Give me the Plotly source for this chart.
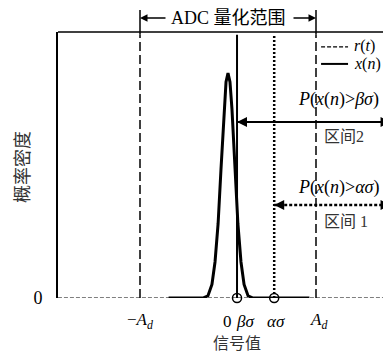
import plotly.graph_objects as go

# ---- data ----
xn_x = [-2.7, -1.14, -0.91, -0.73, -0.59, -0.45, -0.32, -0.18, -0.09, 0.0,
        0.09, 0.18, 0.32, 0.45, 0.59, 0.73, 0.91, 1.14, 3.7]
xn_y = [0, 0, 0.01, 0.06, 0.16, 0.33, 0.57, 0.84, 0.96, 1.0,
        0.96, 0.84, 0.57, 0.33, 0.16, 0.06, 0.01, 0, 0]
rt_x = [-7.73, 7.41]
rt_y = [0.0, 0.0]
A_d = 4.0
beta_sigma = 0.41
alpha_sigma = 2.1
tick_vals = [-A_d, 0.0, beta_sigma, alpha_sigma, A_d]
tick_text = ["−<i>A</i><sub><i>d</i></sub>", "0", "<i>β</i><i>σ</i>", "<i>α</i><i>σ</i>",
             "<i>A</i><sub><i>d</i></sub>"]
tick_shift = [0, -1, 8, 2, 2]
x_range = [-7.727, 7.409]
y_range = [0, 1.182]

SERIF = "Liberation Serif"
CJK = "Noto Sans CJK SC"
MIX = SERIF + ", " + CJK

fig = go.Figure()
fig.add_trace(go.Scatter(x=rt_x, y=rt_y, mode="lines",
                         line=dict(color="black", width=1.2, dash="4px,2px"),
                         showlegend=False, hoverinfo="skip"))
fig.add_trace(go.Scatter(x=xn_x, y=xn_y, mode="lines",
                         line=dict(color="black", width=3),
                         showlegend=False, hoverinfo="skip"))
fig.add_trace(go.Scatter(x=[beta_sigma, alpha_sigma], y=[0, 0], mode="markers",
                         marker=dict(symbol="circle-open", size=9, color="black",
                                     line=dict(width=1.5)),
                         showlegend=False, hoverinfo="skip", cliponaxis=False))

shapes = []
shapes.append(dict(type="line", xref="paper", yref="paper", x0=0, x1=1, y0=1, y1=1,
                   line=dict(color="black", width=1.5)))
shapes.append(dict(type="line", xref="x", yref="paper", x0=-A_d, x1=-A_d, y0=0, y1=0.99,
                   line=dict(color="black", width=1.5, dash="9px,4px")))
shapes.append(dict(type="line", xref="x", yref="paper", x0=A_d, x1=A_d, y0=0, y1=0.99,
                   line=dict(color="black", width=1.5, dash="9px,4px")))
shapes.append(dict(type="line", xref="x", yref="paper", x0=beta_sigma, x1=beta_sigma,
                   y0=0, y1=0.99, line=dict(color="black", width=2)))
shapes.append(dict(type="line", xref="x", yref="paper", x0=alpha_sigma, x1=alpha_sigma,
                   y0=0, y1=0.99, line=dict(color="black", width=2.5, dash="2px,2px")))
for xv in (-A_d, A_d):
    shapes.append(dict(type="line", xref="x", yref="paper", x0=xv, x1=xv, y0=0.99, y1=1.083,
                       line=dict(color="black", width=1.5)))
y2 = 0.782
y1 = 0.413
shapes.append(dict(type="line", xref="x", yref="y", x0=beta_sigma, x1=x_range[1], y0=y2, y1=y2,
                   line=dict(color="black", width=2)))
shapes.append(dict(type="line", xref="x", yref="y", x0=alpha_sigma, x1=x_range[1], y0=y1, y1=y1,
                   line=dict(color="black", width=2.5, dash="3px,2px")))
shapes.append(dict(type="line", xref="paper", yref="paper", x0=0.79, x1=0.871, y0=0.944, y1=0.944,
                   line=dict(color="black", width=1.2, dash="4px,2px")))
shapes.append(dict(type="line", xref="paper", yref="paper", x0=0.79, x1=0.871, y0=0.880, y1=0.880,
                   line=dict(color="black", width=2)))

ann = []


def text_ann(x, y, text, font, xref="x", yref="y", xanchor="center", **kw):
    d = dict(x=x, y=y, xref=xref, yref=yref, text=text, showarrow=False,
             xanchor=xanchor, yanchor="middle", font=font)
    d.update(kw)
    ann.append(d)


def arrow_ann(x, y, ax, width, xref="x", yref="y"):
    ann.append(dict(x=x, y=y, xref=xref, yref=yref, text="", showarrow=True,
                    ax=ax, ay=0, arrowhead=2, arrowsize=1, arrowwidth=width,
                    arrowcolor="black"))


for v, t, s in zip(tick_vals, tick_text, tick_shift):
    text_ann(v, 0, t, dict(family=SERIF, size=17, color="black"), xshift=s, yshift=-23)
text_ann(0.4, 0, "信号值", dict(family=CJK, size=16, color="#333"), yshift=-44)
text_ann((21 - 58) / 333, (298 - 167) / 266, "概率密度",
         dict(family=CJK, size=18, color="#333"), xref="paper", yref="paper", textangle=-90)
ytop = 1.0526
text_ann(0.0, ytop, "ADC 量化范围", dict(family=MIX, size=18, color="black"), yref="paper")
arrow_ann(-A_d, ytop, 27, 1.5, yref="paper")
arrow_ann(A_d, ytop, -24, 1.5, yref="paper")
arrow_ann(beta_sigma, y2, 14, 2)
arrow_ann(x_range[1] - 0.02, y2, -14, 2)
arrow_ann(alpha_sigma, y1, 10, 2)
arrow_ann(x_range[1] - 0.02, y1, -10, 2)
text_ann(3.09, 0.88, "<i>P</i>(<i>x</i>(<i>n</i>)&gt;<i>βσ</i>)",
         dict(family=SERIF, size=18, color="black"), xanchor="left")
text_ann(4.27, 0.716, "区间2", dict(family=MIX, size=16, color="#333"), xanchor="left")
text_ann(3.09, 0.493, "<i>P</i>(<i>x</i>(<i>n</i>)&gt;<i>ασ</i>)",
         dict(family=SERIF, size=18, color="black"), xanchor="left")
text_ann(4.27, 0.338, "区间 1", dict(family=MIX, size=16, color="#333"), xanchor="left")
text_ann(0.883, 0.946, "<i>r</i>(<i>t</i>)", dict(family=SERIF, size=16, color="black"),
         xref="paper", yref="paper", xanchor="left")
text_ann(0.883, 0.878, "<i>x</i>(<i>n</i>)", dict(family=SERIF, size=16, color="black"),
         xref="paper", yref="paper", xanchor="left")

fig.update_layout(
    width=383, height=345,
    margin=dict(l=50, r=0, t=24, b=55),
    plot_bgcolor="white", paper_bgcolor="white",
    showlegend=False,
    shapes=shapes, annotations=ann,
    xaxis=dict(range=x_range, showticklabels=False, showline=False, showgrid=False,
               zeroline=False, ticks=""),
    yaxis=dict(range=y_range, showline=True, linecolor="black", linewidth=2,
               showgrid=False, zeroline=False, tickvals=[0], ticktext=["0"],
               ticks="outside", ticklen=10, tickcolor="rgba(0,0,0,0)",
               tickfont=dict(family=SERIF, size=18, color="black")),
)
fig.write_html("out.html")
